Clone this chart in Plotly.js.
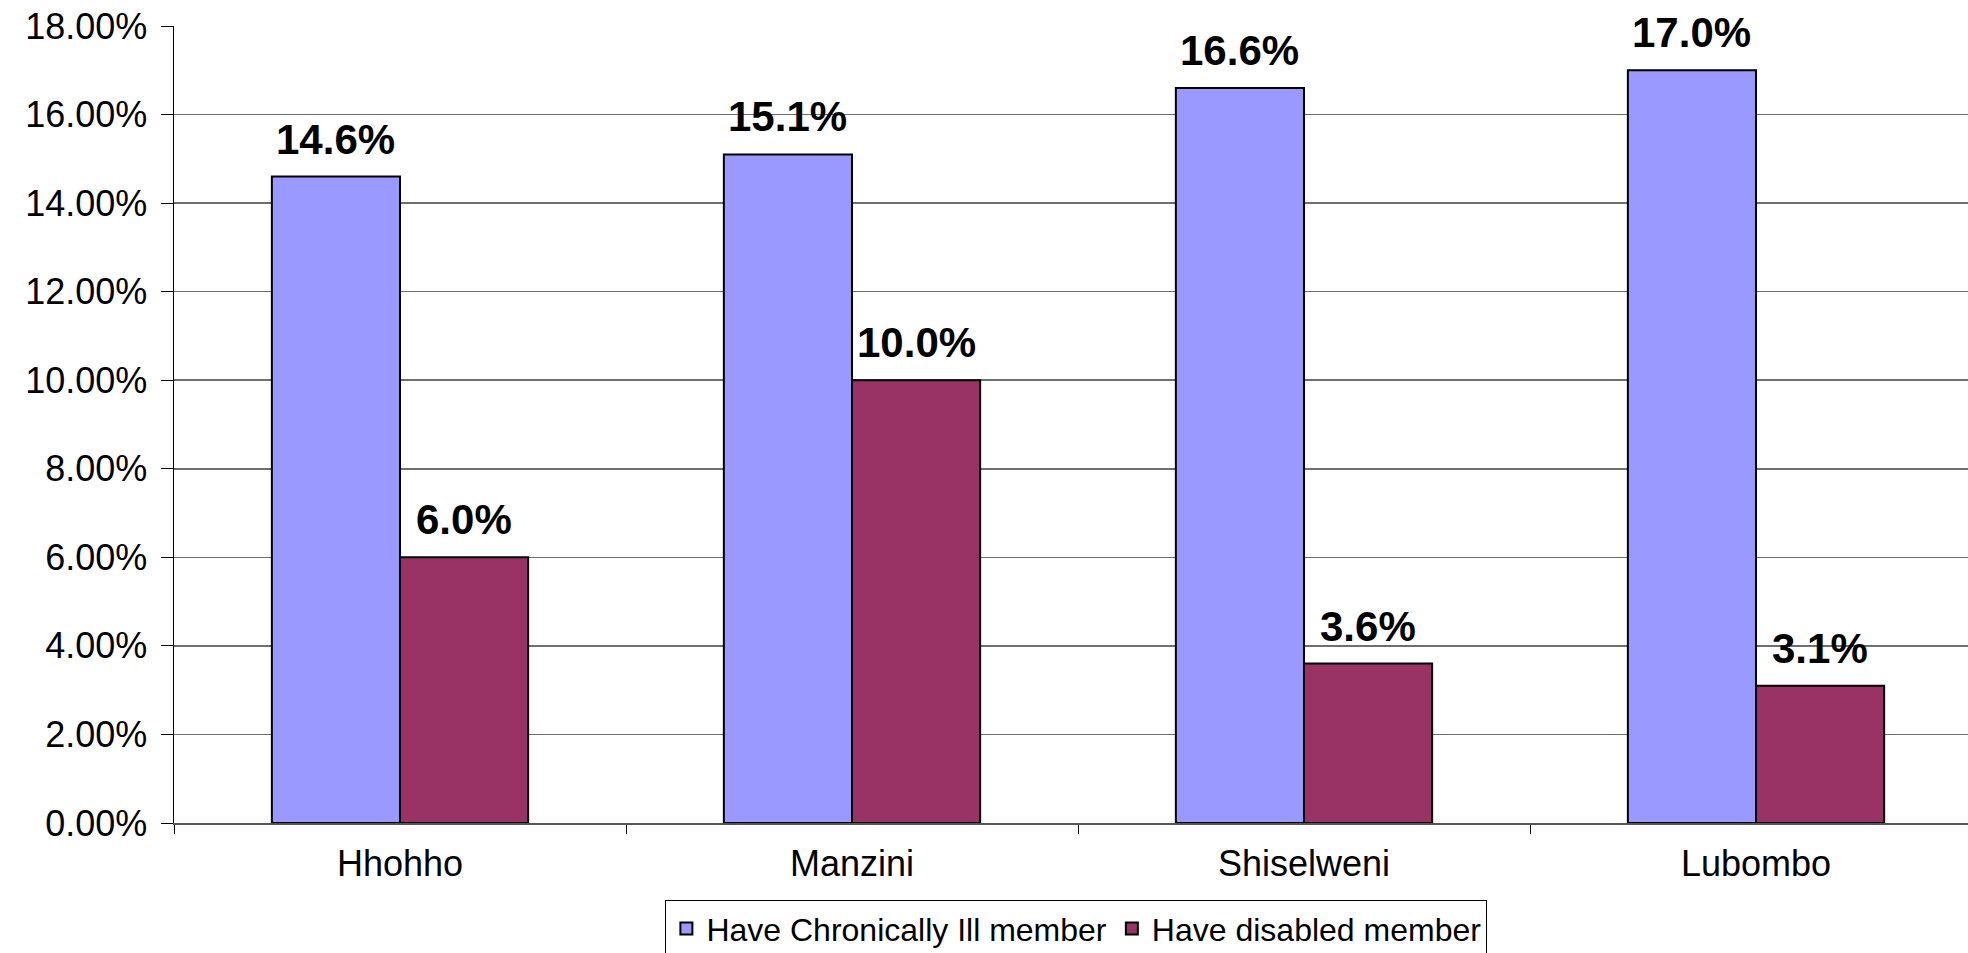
<!DOCTYPE html>
<html>
<head>
<meta charset="utf-8">
<script src="https://cdn.plot.ly/plotly-3.0.1.min.js"></script>
<style>html,body{margin:0;padding:0;background:#fff;}#chart{width:1968px;height:953px;}</style>
</head>
<body>
<div id="chart"></div>
<script>
const regions = ["Hhohho", "Manzini", "Shiselweni", "Lubombo"];
const chronicallyIll = [0.146, 0.151, 0.166, 0.170];
const disabled = [0.060, 0.100, 0.036, 0.031];
const seriesNames = ["Have Chronically Ill member", "Have disabled member"];
const yTickVals = [0, 0.02, 0.04, 0.06, 0.08, 0.10, 0.12, 0.14, 0.16, 0.18];

const FONT = "Liberation Sans, Arial, sans-serif";
const bargap = 0.433;
const half = (1 - bargap) / 4; // centre offset of each bar within group

const traces = [
  {type: "bar", name: seriesNames[0], x: regions, y: chronicallyIll,
   marker: {color: "#9999FF", line: {color: "#000000", width: 2}}, hoverinfo: "skip"},
  {type: "bar", name: seriesNames[1], x: regions, y: disabled,
   marker: {color: "#993366", line: {color: "#000000", width: 2}}, hoverinfo: "skip"}
];

const annotations = [];
[chronicallyIll, disabled].forEach((arr, s) => {
  arr.forEach((v, i) => {
    annotations.push({
      x: i + (s === 0 ? -half : half), y: v, xref: "x", yref: "y",
      text: (v * 100).toFixed(1) + "%", showarrow: false,
      yanchor: "bottom", yshift: 12,
      font: {family: FONT, size: 42, color: "#000000", weight: "bold"}
    });
  });
});

const layout = {
  width: 1968, height: 953,
  margin: {l: 174, r: 0, t: 26, b: 130, pad: 0, autoexpand: false},
  paper_bgcolor: "#ffffff", plot_bgcolor: "#ffffff",
  barmode: "group", bargap: bargap, bargroupgap: 0,
  showlegend: true,
  font: {family: FONT, color: "#000000", size: 36},
  xaxis: {
    type: "category", range: [-0.5, 3.469],
    showgrid: false, zeroline: false,
    showline: true, linecolor: "#555555", linewidth: 2,
    ticks: "outside", tickson: "boundaries", ticklen: 9, tickcolor: "#000000", tickwidth: 1,
    tickfont: {family: FONT, size: 36, color: "#000000"},
    ticklabelstandoff: 8
  },
  yaxis: {
    range: [0, 0.18], tickvals: yTickVals, tickformat: ".2%",
    showgrid: true, gridcolor: "#6e6e6e", gridwidth: 1.5,
    zeroline: false,
    showline: true, linecolor: "#000000", linewidth: 1.5,
    ticks: "outside", ticklen: 12, tickcolor: "#000000", tickwidth: 1,
    tickfont: {family: FONT, size: 36, color: "#000000"},
    ticklabelstandoff: 6
  },
  legend: {
    orientation: "h", x: 0.503, xanchor: "center", y: -0.097, yanchor: "top",
    bgcolor: "#ffffff", bordercolor: "#000000", borderwidth: 1,
    font: {family: FONT, size: 32, color: "#000000"},
    itemclick: false, itemdoubleclick: false
  },
  annotations: annotations
};

Plotly.newPlot("chart", traces, layout, {displayModeBar: false, staticPlot: true});
</script>
</body>
</html>
